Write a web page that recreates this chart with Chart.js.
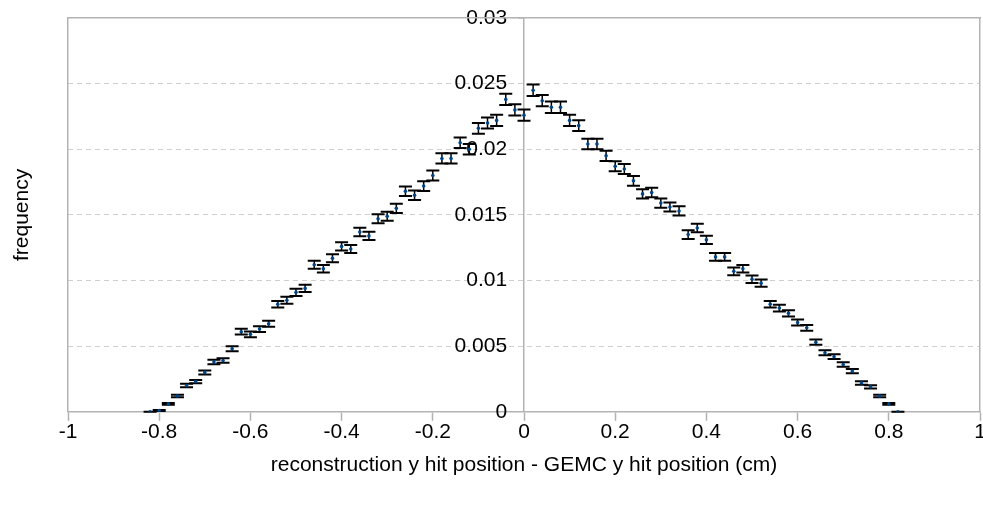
<!DOCTYPE html>
<html>
<head>
<meta charset="utf-8">
<script src="https://cdn.jsdelivr.net/npm/chart.js@4.4.1/dist/chart.umd.min.js"></script>
<style>
  html, body { margin: 0; padding: 0; background: #ffffff; }
  canvas { display: block; }
</style>
</head>
<body>
<canvas id="chart" width="983" height="506"></canvas>
<script>
// Residual bins (cm), one entry per measured point
const xPositions = [
  -0.82, -0.80, -0.78, -0.76, -0.74, -0.72, -0.70, -0.68, -0.66, -0.64,
  -0.62, -0.60, -0.58, -0.56, -0.54, -0.52, -0.50, -0.48, -0.46, -0.44,
  -0.42, -0.40, -0.38, -0.36, -0.34, -0.32, -0.30, -0.28, -0.26, -0.24,
  -0.22, -0.20, -0.18, -0.16, -0.14, -0.12, -0.10, -0.08, -0.06, -0.04,
  -0.02, 0.00, 0.02, 0.04, 0.06, 0.08, 0.10, 0.12, 0.14, 0.16,
  0.18, 0.20, 0.22, 0.24, 0.26, 0.28, 0.30, 0.32, 0.34, 0.36,
  0.38, 0.40, 0.42, 0.44, 0.46, 0.48, 0.50, 0.52, 0.54, 0.56,
  0.58, 0.60, 0.62, 0.64, 0.66, 0.68, 0.70, 0.72, 0.74, 0.76,
  0.78, 0.80, 0.82
];

// Normalised frequency in each bin
const frequencies = [
  0.0000, 0.0001, 0.0006, 0.0012, 0.0020, 0.0023, 0.0030, 0.0038, 0.0039, 0.0048,
  0.0061, 0.0059, 0.0063, 0.0067, 0.0082, 0.0085, 0.0091, 0.0094, 0.0112, 0.0109,
  0.0117, 0.0126, 0.0124, 0.0137, 0.0134, 0.0147, 0.0149, 0.0155, 0.0168, 0.0165,
  0.0172, 0.0180, 0.0193, 0.0193, 0.0205, 0.0200, 0.0216, 0.0220, 0.0222, 0.0238,
  0.0230, 0.0226, 0.0245, 0.0237, 0.0232, 0.0232, 0.0222, 0.0218, 0.0204, 0.0204,
  0.0195, 0.0187, 0.0185, 0.0176, 0.0166, 0.0167, 0.0159, 0.0156, 0.0153, 0.0135,
  0.0140, 0.0131, 0.0118, 0.0118, 0.0107, 0.0109, 0.0101, 0.0098, 0.0082, 0.0079,
  0.0075, 0.0068, 0.0064, 0.0053, 0.0045, 0.0042, 0.0036, 0.0031, 0.0022, 0.0019,
  0.0012, 0.0006, 0.0000
];

// Statistical uncertainty of each bin (half-length of the error bar)
const frequencyErrors = [
  0.00000, 0.00003, 0.00007, 0.00010, 0.00013, 0.00013, 0.00015, 0.00017, 0.00017, 0.00019,
  0.00022, 0.00022, 0.00022, 0.00023, 0.00025, 0.00026, 0.00027, 0.00027, 0.00030, 0.00029,
  0.00030, 0.00031, 0.00031, 0.00033, 0.00032, 0.00034, 0.00034, 0.00035, 0.00036, 0.00036,
  0.00037, 0.00038, 0.00039, 0.00039, 0.00040, 0.00040, 0.00041, 0.00042, 0.00042, 0.00043,
  0.00042, 0.00042, 0.00044, 0.00043, 0.00043, 0.00043, 0.00042, 0.00041, 0.00040, 0.00040,
  0.00039, 0.00038, 0.00038, 0.00037, 0.00036, 0.00036, 0.00035, 0.00035, 0.00035, 0.00033,
  0.00033, 0.00032, 0.00030, 0.00030, 0.00029, 0.00029, 0.00028, 0.00028, 0.00025, 0.00025,
  0.00024, 0.00023, 0.00022, 0.00020, 0.00019, 0.00018, 0.00017, 0.00016, 0.00013, 0.00012,
  0.00010, 0.00007, 0.00000
];

const xTickValues = [-1, -0.8, -0.6, -0.4, -0.2, 0, 0.2, 0.4, 0.6, 0.8, 1];
const xTickLabels = ['-1', '-0.8', '-0.6', '-0.4', '-0.2', '0', '0.2', '0.4', '0.6', '0.8', '1'];
const yTickValues = [0, 0.005, 0.01, 0.015, 0.02, 0.025, 0.03];
const yTickLabels = ['0', '0.005', '0.01', '0.015', '0.02', '0.025', '0.03'];

const AXIS_GREY = '#b3b3b3';
const GRID_GREY = '#cfcfcf';
const TEXT = '#000000';
const FAMILY = "'Liberation Sans', Arial, Helvetica, sans-serif";
const tickFont = { family: FAMILY, size: 21, lineHeight: 1 };
const titleFont = { family: FAMILY, size: 21, lineHeight: 1.2 };

// Draws the vertical error bar with caps under each marker
const errorBars = {
  id: 'errorBars',
  beforeDatasetsDraw(chart) {
    const { ctx, scales: { x, y } } = chart;
    const capHalf = 6.5;
    ctx.save();
    ctx.strokeStyle = '#000000';
    xPositions.forEach((xv, i) => {
      const v = frequencies[i];
      const e = frequencyErrors[i];
      const px = x.getPixelForValue(xv);
      const top = y.getPixelForValue(v + e);
      const bot = y.getPixelForValue(v - e);
      ctx.lineWidth = 1.5;
      ctx.beginPath();
      ctx.moveTo(px, top);
      ctx.lineTo(px, bot);
      ctx.stroke();
      ctx.lineWidth = 2;
      ctx.beginPath();
      ctx.moveTo(px - capHalf, top);
      ctx.lineTo(px + capHalf, top);
      ctx.moveTo(px - capHalf, bot);
      ctx.lineTo(px + capHalf, bot);
      ctx.stroke();
    });
    ctx.restore();
  }
};

const points = xPositions.map((xv, i) => ({ x: xv, y: frequencies[i] }));

const hiddenAxis = (axis, position) => ({
  type: 'linear',
  axis,
  position,
  display: true,
  ticks: { display: false },
  grid: { display: false, drawTicks: false },
  border: { display: true, color: AXIS_GREY, width: 1.5 }
});

new Chart(document.getElementById('chart').getContext('2d'), {
  type: 'scatter',
  data: {
    datasets: [{
      data: points,
      showLine: false,
      pointRadius: 1.8,
      pointHoverRadius: 1.8,
      pointBackgroundColor: '#004586',
      pointBorderWidth: 0
    }]
  },
  options: {
    responsive: false,
    animation: false,
    devicePixelRatio: 1,
    layout: { padding: { left: 0, right: 3, top: 18, bottom: 10 } },
    plugins: { legend: { display: false }, tooltip: { enabled: false } },
    scales: {
      x: {
        type: 'linear',
        position: 'bottom',
        min: -1,
        max: 1,
        afterBuildTicks: (scale) => { scale.ticks = xTickValues.map(v => ({ value: v })); },
        afterFit: (scale) => { scale.paddingRight = 0; },
        ticks: {
          autoSkip: false,
          maxRotation: 0,
          padding: 1,
          color: TEXT,
          font: tickFont,
          callback: (value, index) => xTickLabels[index]
        },
        grid: {
          drawOnChartArea: false,
          drawTicks: true,
          tickLength: 9,
          tickColor: AXIS_GREY,
          tickWidth: 1.5
        },
        border: { display: true, color: AXIS_GREY, width: 1.5 },
        title: {
          display: true,
          text: 'reconstruction y hit position - GEMC y hit position (cm)',
          color: TEXT,
          font: titleFont,
          padding: { top: 9, bottom: 18 }
        }
      },
      // central frequency axis: axis line, dashed grid and short tick marks
      y: {
        type: 'linear',
        position: { x: 0 },
        min: 0,
        max: 0.03,
        afterBuildTicks: (scale) => { scale.ticks = yTickValues.map(v => ({ value: v })); },
        ticks: { display: false },
        grid: {
          color: (c) => (c.tick && (c.tick.value === 0 || c.tick.value === 0.03)) ? 'rgba(0,0,0,0)' : GRID_GREY,
          lineWidth: 1,
          drawTicks: true,
          tickLength: 10,
          tickColor: GRID_GREY,
          tickBorderDash: [5, 4]
        },
        border: { display: true, color: AXIS_GREY, width: 1.5, dash: [5, 4] }
      },
      // frequency tick labels, set a little left of the central axis line
      yLabels: {
        type: 'linear',
        axis: 'y',
        position: { x: -0.037 },
        min: 0,
        max: 0.03,
        afterBuildTicks: (scale) => { scale.ticks = yTickValues.map(v => ({ value: v })); },
        ticks: {
          color: TEXT,
          font: tickFont,
          callback: (value, index) => yTickLabels[index]
        },
        grid: { display: false, drawTicks: false },
        border: { display: false }
      },
      frameTop: hiddenAxis('x', 'top'),
      frameLeft: Object.assign(hiddenAxis('y', 'left'), {
        title: {
          display: true,
          text: 'frequency',
          color: TEXT,
          font: titleFont,
          padding: { top: 9.4, bottom: 33.4 }
        }
      }),
      frameRight: hiddenAxis('y', 'right')
    }
  },
  plugins: [errorBars]
});
</script>
</body>
</html>
